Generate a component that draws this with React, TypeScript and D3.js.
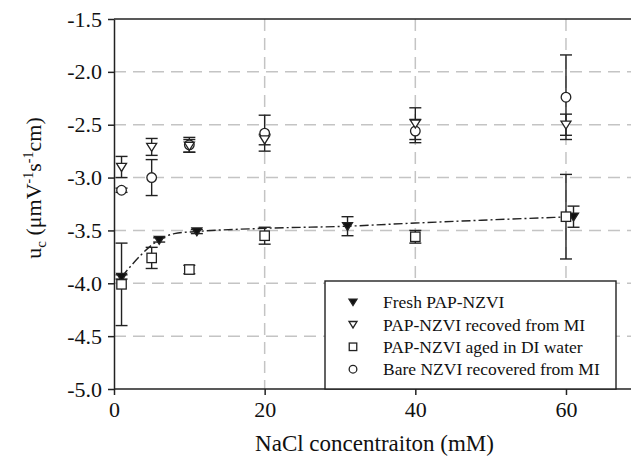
import React, { useRef, useEffect } from "react";
import * as d3 from "d3";

// NaCl concentration (mM) for each series
const xFresh = [1, 6, 11, 31, 61];
const xMI = [1, 5, 10, 20, 40, 60];
const xAged = [1, 5, 10, 20, 40, 60];
const xBare = [1, 5, 10, 20, 40, 60];

// electrophoretic mobility u_c, with error
const fresh = [-3.94, -3.59, -3.51, -3.46, -3.37];
const freshErr = [0.02, 0.02, 0.02, 0.09, 0.1];
const recoveredMI = [-2.9, -2.71, -2.7, -2.64, -2.49, -2.5];
const recoveredMIErr = [0.1, 0.08, 0.06, 0.05, 0.15, 0.1];
const agedDI = [-4.01, -3.76, -3.87, -3.55, -3.56, -3.37];
const agedDIErr = [0.39, 0.1, 0.04, 0.08, 0.06, 0.4];
const bareMI = [-3.12, -3.0, -2.69, -2.58, -2.56, -2.24];
const bareMIErr = [0.02, 0.17, 0.07, 0.17, 0.11, 0.4];

// dash-dot trend line through the fresh samples
const fitX = [1, 6, 8, 11, 20, 31, 40, 50, 61];
const fitY = [-3.94, -3.59, -3.53, -3.51, -3.48, -3.46, -3.43, -3.4, -3.37];

const xTicks = [0, 20, 40, 60];
const yTicks = [-5.0, -4.5, -4.0, -3.5, -3.0, -2.5, -2.0, -1.5];
const legendLabels = [
  "Fresh PAP-NZVI",
  "PAP-NZVI recoved from MI",
  "PAP-NZVI aged in DI water",
  "Bare NZVI recovered from MI",
];

const FONT = '"Liberation Serif", "DejaVu Serif", serif';

const triDown = (w) => `M${-w / 2},${-w * 0.36}L${w / 2},${-w * 0.36}L0,${w * 0.44}Z`;

const App = () => {
  const svgRef = useRef(null);

  useEffect(() => {
    const width = 631;
    const left = 114, top = 19, bottom = 389;
    const svg = d3.select(svgRef.current);
    svg.selectAll("*").remove();

    const x = d3.scaleLinear().domain([0, 70]).range([left, left + 70 * 7.533]);
    const y = d3.scaleLinear().domain([-5, -1.5]).range([bottom, top]);

    // grid
    const grid = svg.append("g")
      .attr("stroke", "#c4c4c4")
      .attr("stroke-width", 1.5)
      .attr("stroke-dasharray", "12,7");
    grid.selectAll("line.h")
      .data(yTicks.filter(d => d > -5 && d < -1.5))
      .join("line")
      .attr("x1", left).attr("x2", width)
      .attr("y1", d => y(d)).attr("y2", d => y(d));
    grid.selectAll("line.v")
      .data(xTicks.filter(d => d > 0))
      .join("line")
      .attr("class", "v")
      .attr("x1", d => x(d)).attr("x2", d => x(d))
      .attr("y1", top).attr("y2", bottom);

    // top frame
    svg.append("line")
      .attr("x1", left).attr("x2", width)
      .attr("y1", y(-1.5)).attr("y2", y(-1.5))
      .attr("stroke", "#222").attr("stroke-width", 1.5);

    // axes
    const yAxis = svg.append("g")
      .attr("transform", `translate(${left},0)`)
      .call(d3.axisLeft(y).tickValues(yTicks).tickSize(6).tickSizeOuter(0).tickPadding(6)
        .tickFormat(d => d.toFixed(1)));
    const xAxis = svg.append("g")
      .attr("transform", `translate(0,${bottom})`)
      .call(d3.axisBottom(x).tickValues(xTicks).tickSize(6).tickSizeOuter(0).tickPadding(6)
        .tickFormat(d => String(d)));
    [xAxis, yAxis].forEach(g => {
      g.attr("font-family", null).attr("font-size", null);
      g.selectAll("path, line").attr("stroke", "#222").attr("stroke-width", 1.5);
      g.selectAll("text").style("font-family", FONT).style("font-size", "22px").attr("fill", "#111");
    });
    xAxis.select("path.domain").attr("d", `M${left},0H${width}`);

    // fit line
    svg.append("path")
      .datum(fitX.map((d, i) => [d, fitY[i]]))
      .attr("fill", "none")
      .attr("stroke", "#222")
      .attr("stroke-width", 1.4)
      .attr("stroke-dasharray", "9,3,2,3")
      .attr("d", d3.line().x(d => x(d[0])).y(d => y(d[1])).curve(d3.curveMonotoneX));

    const series = [
      { xs: xFresh, ys: fresh, err: freshErr, kind: "triFill" },
      { xs: xAged, ys: agedDI, err: agedDIErr, kind: "square" },
      { xs: xBare, ys: bareMI, err: bareMIErr, kind: "circle" },
      { xs: xMI, ys: recoveredMI, err: recoveredMIErr, kind: "triOpen" },
    ];

    // error bars
    series.forEach(s => {
      const g = svg.append("g").attr("stroke", "#222").attr("stroke-width", 1.4);
      s.xs.forEach((xv, i) => {
        const cx = x(xv);
        const y1 = y(s.ys[i] + s.err[i]);
        const y2 = y(s.ys[i] - s.err[i]);
        g.append("line").attr("x1", cx).attr("x2", cx).attr("y1", y1).attr("y2", y2);
        [y1, y2].forEach(yy =>
          g.append("line").attr("x1", cx - 6).attr("x2", cx + 6).attr("y1", yy).attr("y2", yy));
      });
    });

    const drawMarker = (g, kind, cx, cy, sz) => {
      if (kind === "circle") {
        g.append("circle").attr("cx", cx).attr("cy", cy).attr("r", sz * 0.48)
          .attr("fill", "white").attr("stroke", "#222").attr("stroke-width", 1.3);
      } else if (kind === "square") {
        g.append("rect").attr("x", cx - sz * 0.47).attr("y", cy - sz * 0.47)
          .attr("width", sz * 0.94).attr("height", sz * 0.94)
          .attr("fill", "white").attr("stroke", "#222").attr("stroke-width", 1.3);
      } else {
        g.append("path").attr("d", triDown(sz)).attr("transform", `translate(${cx},${cy})`)
          .attr("fill", kind === "triFill" ? "#111" : "white")
          .attr("stroke", "#222").attr("stroke-width", 1.3);
      }
    };

    series.forEach(s => {
      const g = svg.append("g");
      s.xs.forEach((xv, i) => drawMarker(g, s.kind, x(xv), y(s.ys[i]), 10));
    });

    // legend
    const lg = svg.append("g");
    lg.append("rect")
      .attr("x", 325).attr("y", 281).attr("width", 291).attr("height", bottom - 281)
      .attr("fill", "white").attr("stroke", "#222").attr("stroke-width", 1.4);
    const kinds = ["triFill", "triOpen", "square", "circle"];
    legendLabels.forEach((label, i) => {
      const ly = 302 + i * 22.4;
      drawMarker(lg, kinds[i], 353, ly, 8);
      lg.append("text")
        .attr("x", 383).attr("y", ly).attr("dy", "0.35em")
        .style("font-family", FONT).style("font-size", "17.5px").attr("fill", "#111")
        .text(label);
    });

    // axis titles
    svg.append("text")
      .attr("x", (left + width) / 2 + 2).attr("y", 451)
      .attr("text-anchor", "middle")
      .style("font-family", FONT).style("font-size", "23px").attr("fill", "#111")
      .text("NaCl concentraiton (mM)");

    const yt = svg.append("text")
      .attr("transform", `translate(41,188) rotate(-90)`)
      .attr("text-anchor", "middle")
      .style("font-family", FONT).style("font-size", "22px").attr("fill", "#111");
    yt.append("tspan").text("u");
    yt.append("tspan").attr("dy", 5).style("font-size", "15px").text("c");
    yt.append("tspan").attr("dy", -5).text(" (μmV");
    yt.append("tspan").attr("dy", -8).style("font-size", "14px").text("-1");
    yt.append("tspan").attr("dy", 8).text("s");
    yt.append("tspan").attr("dy", -8).style("font-size", "14px").text("-1");
    yt.append("tspan").attr("dy", 8).text("cm)");
  }, []);

  return (
    <svg
      ref={svgRef}
      width={631}
      height={460}
      style={{ position: "absolute", left: 0, top: 0, background: "white" }}
    />
  );
};

export default App;
